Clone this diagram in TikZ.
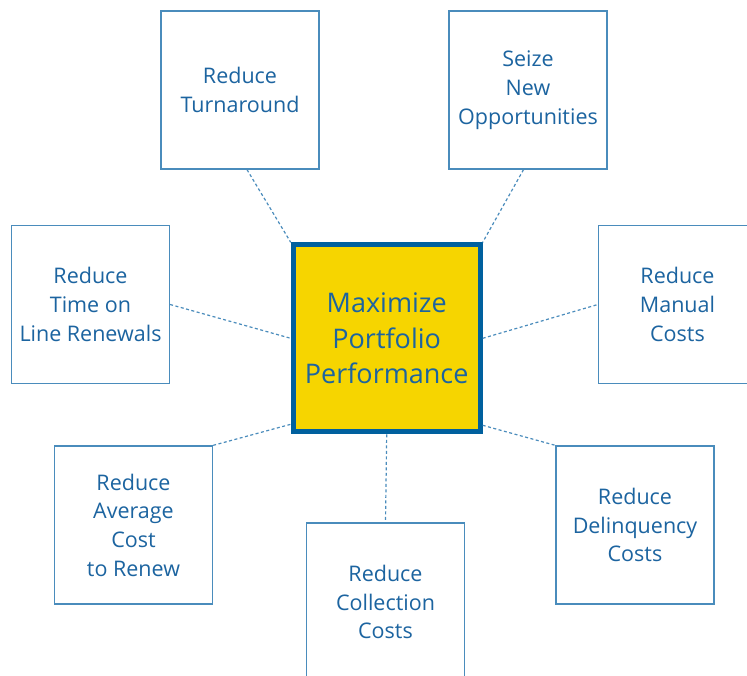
\documentclass[tikz,border=0pt]{standalone}
\usepackage{fontspec}
\setmainfont{Open Sans}
\definecolor{txtblue}{HTML}{1C64A0}
\definecolor{linblue}{HTML}{4A8CBC}
\definecolor{corblue}{HTML}{00609E}
\definecolor{goalyellow}{HTML}{F6D500}
\tikzset{
  goalbox/.style={draw=linblue, line width=1.3pt, minimum width=158pt, minimum height=158pt, inner sep=0pt,
    align=center, text=txtblue, font=\fontsize{21.5}{28.7}\selectfont},
  corebox/.style={draw=corblue, fill=goalyellow, line width=5pt, minimum width=187pt, minimum height=187pt, inner sep=0pt,
    align=center, text=txtblue, font=\fontsize{27}{35.8}\selectfont},
  link/.style={draw=linblue, line width=1.2pt, dash pattern=on 3pt off 2.5pt}
}
\begin{document}
\begin{tikzpicture}[x=1pt,y=-1pt]
\clip (0,0) rectangle (747,675);
\fill[white] (0,0) rectangle (747,675);
\node[corebox] (c) at (386.7,338.3) {Maximize\\Portfolio\\Performance};
\node[goalbox] (tl) at (240,90) {Reduce\\Turnaround};
\node[goalbox] (tr) at (528,90) {Seize\\New\\Opportunities};
\node[goalbox] (l) at (90.5,304.5) {Reduce\\Time on\\Line Renewals};
\node[goalbox] (r) at (677.5,304.5) {Reduce\\Manual\\Costs};
\node[goalbox] (bl) at (133.5,525) {Reduce\\Average\\Cost\\to Renew};
\node[goalbox] (br) at (635,525) {Reduce\\Delinquency\\Costs};
\node[goalbox] (b) at (385.5,602) {Reduce\\Collection\\Costs};
\draw[link] ([xshift=7pt]tl.south) -- (c.north west);
\draw[link] ([xshift=-4.5pt]tr.south) -- (c.north east);
\draw[link] (l.east) -- (c.west);
\draw[link] (c.east) -- (r.west);
\draw[link] (bl.north east) -- ([yshift=10pt]c.south west);
\draw[link] ([yshift=9pt]c.south east) -- (br.north west);
\draw[link] (c.south) -- (b.north);
\end{tikzpicture}
\end{document}
